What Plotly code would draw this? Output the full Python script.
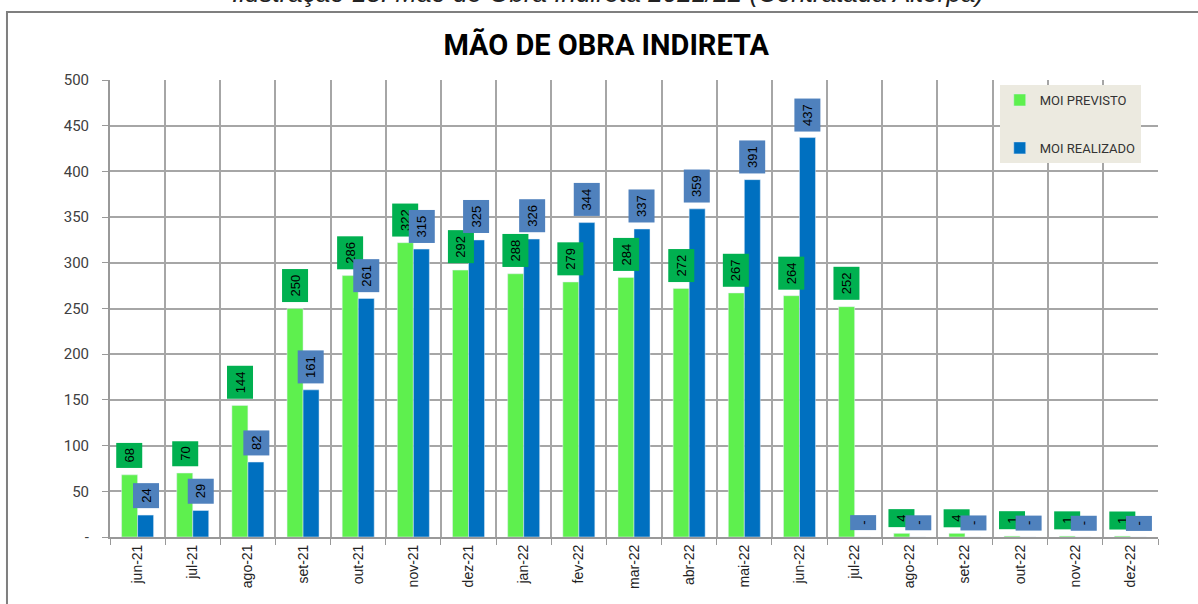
import plotly.graph_objects as go

months = ["jun-21", "jul-21", "ago-21", "set-21", "out-21", "nov-21", "dez-21", "jan-22",
          "fev-22", "mar-22", "abr-22", "mai-22", "jun-22", "jul-22", "ago-22", "set-22",
          "out-22", "nov-22", "dez-22"]
previsto = [68, 70, 144, 250, 286, 322, 292, 288, 279, 284, 272, 267, 264, 252, 4, 4, 1, 1, 1]
realizado = [24, 29, 82, 161, 261, 315, 325, 326, 344, 337, 359, 391, 437, 0, 0, 0, 0, 0, 0]
y_ticks = [0, 50, 100, 150, 200, 250, 300, 350, 400, 450, 500]
y_ticktext = ["-", "50", "100", "150", "200", "250", "300", "350", "400", "450", "500"]

GREEN = "#5EF04E"
BLUE = "#0070C0"
GREEN_LBL = "#00B050"
BLUE_LBL = "#4F81BD"

fig = go.Figure()
fig.add_trace(go.Bar(x=months, y=previsto, name="MOI PREVISTO", marker_color=GREEN,
                     legendgroup="a"))
fig.add_trace(go.Bar(x=months, y=realizado, name="MOI REALIZADO", marker_color=BLUE,
                     legendgroup="b"))

LBL_FONT = dict(size=13, color="#000000", family="Liberation Sans")
annotations = []
for m, v in zip(months, previsto):
    annotations.append(dict(x=m, y=v, xref="x", yref="y", text=str(v), textangle=-90,
                            showarrow=False, xanchor="center", yanchor="bottom",
                            xshift=-8, yshift=6, bgcolor=GREEN_LBL, borderpad=5,
                            font=LBL_FONT))
for m, v in zip(months, realizado):
    annotations.append(dict(x=m, y=v, xref="x", yref="y", text=(str(v) if v else "-"),
                            textangle=-90, showarrow=False, xanchor="center", yanchor="bottom",
                            xshift=8, yshift=6, bgcolor=BLUE_LBL, borderpad=5,
                            font=LBL_FONT))

annotations.append(dict(text="<i>Ilustração 15: Mão de Obra Indireta 2021/22 (Contratada Alterpa)</i>",
                        xref="paper", yref="paper", x=0.475, y=1.1535, xanchor="center",
                        yanchor="bottom", showarrow=False,
                        font=dict(size=26, color="#222222", family="Liberation Sans")))

fig.update_layout(
    width=1198, height=604,
    margin=dict(l=110, r=40, t=80, b=67),
    paper_bgcolor="white", plot_bgcolor="white",
    barmode="group", bargap=0.42, bargroupgap=0,
    title=dict(text="<b>MÃO DE OBRA INDIRETA</b>", x=0.506, xanchor="center",
               y=1 - 45 / 604, yanchor="middle", yref="container",
               font=dict(size=29, color="#000000", family="Roboto")),
    legend=dict(x=0.849, y=0.989, xanchor="left", yanchor="top", bgcolor="#ECEAE0",
                font=dict(size=13, color="#333333", family="Roboto"),
                tracegroupgap=28, itemwidth=30),
    annotations=annotations,
    shapes=[dict(type="rect", xref="paper", yref="paper", x0=-0.0983, x1=1.2,
                 y0=-0.5, y1=1.1488, line=dict(color="#7F7F7F", width=2), layer="below")],
    xaxis=dict(tickson="boundaries", ticks="outside", ticklen=6, tickcolor="#999999",
               showgrid=True, gridcolor="#A6A6A6", gridwidth=1.5, tickangle=-90,
               showline=True, linecolor="#999999", linewidth=2,
               tickfont=dict(size=14, color="#222222", family="Liberation Sans")),
    yaxis=dict(range=[0, 500], tickvals=y_ticks, ticktext=y_ticktext, ticks="outside",
               ticklen=6, tickcolor="#999999", showgrid=True, gridcolor="#A6A6A6",
               gridwidth=1.5, showline=True, linecolor="#999999", linewidth=2,
               zeroline=False, ticklabelstandoff=10,
               tickfont=dict(size=15, color="#404040", family="Roboto")),
)

fig.write_html("out.html", config={"displayModeBar": False},
               post_script="document.body.style.margin='0';")
